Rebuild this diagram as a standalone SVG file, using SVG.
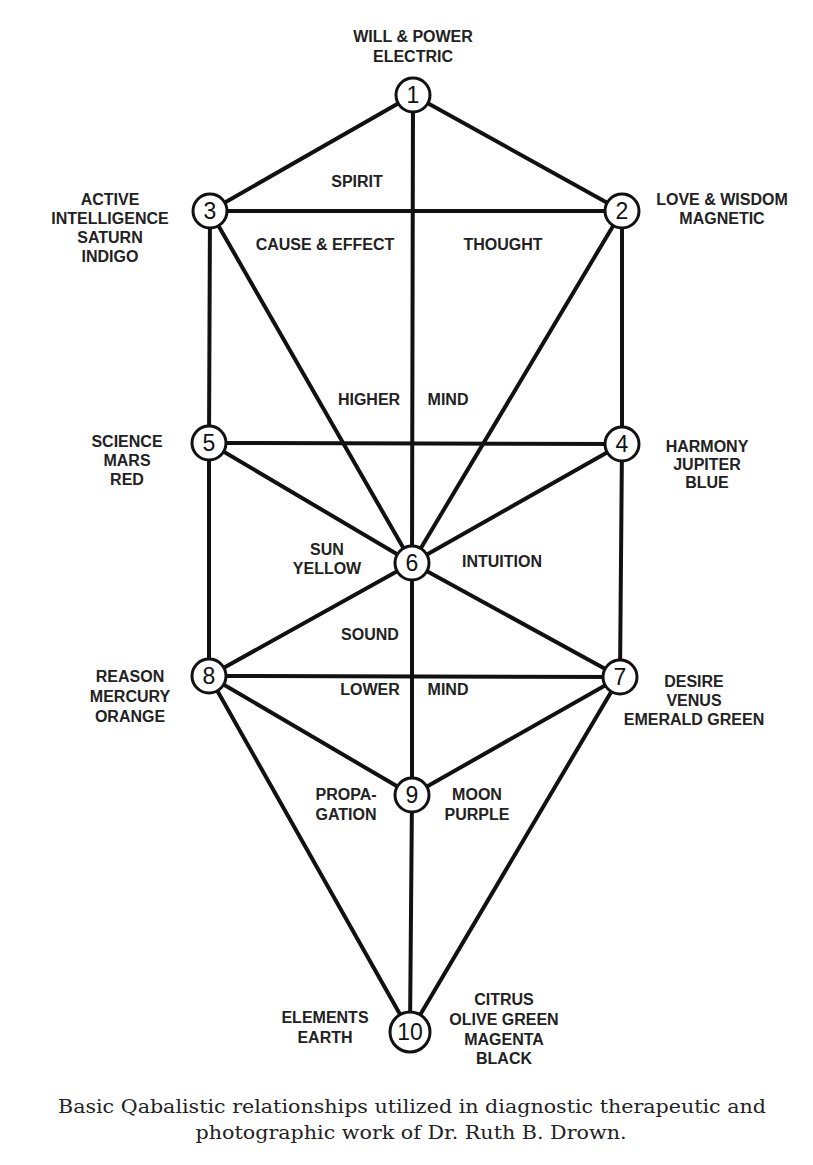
<svg xmlns="http://www.w3.org/2000/svg" width="813" height="1165" viewBox="0 0 813 1165">
<style>
.bg{fill:#ffffff}
.edge{stroke:#111;stroke-width:4;stroke-linecap:round;fill:none}
.node circle{fill:#fff;stroke:#111;stroke-width:3}
.num{font-family:"Liberation Sans",Arial,sans-serif;font-size:23px;fill:#111;text-anchor:middle}
.lbl{font-family:"Liberation Sans",Arial,sans-serif;font-size:16px;font-weight:bold;fill:#222;text-anchor:middle}
.cap{font-family:"DejaVu Serif","Liberation Serif",serif;font-size:19px;fill:#222;text-anchor:middle}
</style>
<rect class="bg" x="0" y="0" width="813" height="1165"/>
<g id="connectors">
<line class="edge" x1="413" y1="95" x2="210" y2="211"/>
<line class="edge" x1="413" y1="95" x2="622" y2="211"/>
<line class="edge" x1="413" y1="95" x2="412" y2="563"/>
<line class="edge" x1="210" y1="211" x2="622" y2="211"/>
<line class="edge" x1="210" y1="211" x2="209" y2="443"/>
<line class="edge" x1="210" y1="211" x2="412" y2="563"/>
<line class="edge" x1="622" y1="211" x2="622" y2="444"/>
<line class="edge" x1="622" y1="211" x2="412" y2="563"/>
<line class="edge" x1="209" y1="443" x2="622" y2="444"/>
<line class="edge" x1="209" y1="443" x2="412" y2="563"/>
<line class="edge" x1="622" y1="444" x2="412" y2="563"/>
<line class="edge" x1="209" y1="443" x2="209" y2="676"/>
<line class="edge" x1="622" y1="444" x2="620" y2="677"/>
<line class="edge" x1="412" y1="563" x2="209" y2="676"/>
<line class="edge" x1="412" y1="563" x2="620" y2="677"/>
<line class="edge" x1="412" y1="563" x2="412" y2="795"/>
<line class="edge" x1="209" y1="676" x2="620" y2="677"/>
<line class="edge" x1="209" y1="676" x2="412" y2="795"/>
<line class="edge" x1="620" y1="677" x2="412" y2="795"/>
<line class="edge" x1="209" y1="676" x2="410" y2="1032"/>
<line class="edge" x1="620" y1="677" x2="410" y2="1032"/>
<line class="edge" x1="412" y1="795" x2="410" y2="1032"/>
</g>
<g id="node1" class="node"><circle cx="413" cy="95" r="17"/><text class="num" x="413" y="103">1</text></g>
<g id="node2" class="node"><circle cx="622" cy="211" r="17"/><text class="num" x="622" y="219">2</text></g>
<g id="node3" class="node"><circle cx="210" cy="211" r="17"/><text class="num" x="210" y="219">3</text></g>
<g id="node4" class="node"><circle cx="622" cy="444" r="17"/><text class="num" x="622" y="452">4</text></g>
<g id="node5" class="node"><circle cx="209" cy="443" r="17"/><text class="num" x="209" y="451">5</text></g>
<g id="node6" class="node"><circle cx="412" cy="563" r="17"/><text class="num" x="412" y="571">6</text></g>
<g id="node7" class="node"><circle cx="620" cy="677" r="17"/><text class="num" x="620" y="685">7</text></g>
<g id="node8" class="node"><circle cx="209" cy="676" r="17"/><text class="num" x="209" y="684">8</text></g>
<g id="node9" class="node"><circle cx="412" cy="795" r="17"/><text class="num" x="412" y="803">9</text></g>
<g id="node10" class="node"><circle cx="410" cy="1032" r="20"/><text class="num" x="410" y="1040">10</text></g>
<g id="labels">
<text class="lbl" x="413" y="42">WILL &amp; POWER</text>
<text class="lbl" x="413" y="62">ELECTRIC</text>
<text class="lbl" x="357" y="187">SPIRIT</text>
<text class="lbl" x="325" y="250">CAUSE &amp; EFFECT</text>
<text class="lbl" x="503" y="250">THOUGHT</text>
<text class="lbl" x="110" y="205">ACTIVE</text>
<text class="lbl" x="110" y="224">INTELLIGENCE</text>
<text class="lbl" x="110" y="243">SATURN</text>
<text class="lbl" x="110" y="262">INDIGO</text>
<text class="lbl" x="722" y="205">LOVE &amp; WISDOM</text>
<text class="lbl" x="722" y="224">MAGNETIC</text>
<text class="lbl" x="369" y="405">HIGHER</text>
<text class="lbl" x="448" y="405">MIND</text>
<text class="lbl" x="127" y="447">SCIENCE</text>
<text class="lbl" x="127" y="466">MARS</text>
<text class="lbl" x="127" y="485">RED</text>
<text class="lbl" x="707" y="452">HARMONY</text>
<text class="lbl" x="707" y="470">JUPITER</text>
<text class="lbl" x="707" y="488">BLUE</text>
<text class="lbl" x="327" y="555">SUN</text>
<text class="lbl" x="327" y="574">YELLOW</text>
<text class="lbl" x="502" y="567">INTUITION</text>
<text class="lbl" x="370" y="640">SOUND</text>
<text class="lbl" x="370" y="695">LOWER</text>
<text class="lbl" x="448" y="695">MIND</text>
<text class="lbl" x="130" y="682">REASON</text>
<text class="lbl" x="130" y="702">MERCURY</text>
<text class="lbl" x="130" y="722">ORANGE</text>
<text class="lbl" x="694" y="687">DESIRE</text>
<text class="lbl" x="694" y="706">VENUS</text>
<text class="lbl" x="694" y="725">EMERALD GREEN</text>
<text class="lbl" x="346" y="800">PROPA-</text>
<text class="lbl" x="346" y="820">GATION</text>
<text class="lbl" x="477" y="800">MOON</text>
<text class="lbl" x="477" y="820">PURPLE</text>
<text class="lbl" x="325" y="1023">ELEMENTS</text>
<text class="lbl" x="325" y="1043">EARTH</text>
<text class="lbl" x="504" y="1005">CITRUS</text>
<text class="lbl" x="504" y="1025">OLIVE GREEN</text>
<text class="lbl" x="504" y="1045">MAGENTA</text>
<text class="lbl" x="504" y="1064">BLACK</text>
</g>
<g id="caption">
<text class="cap" x="412" y="1113" textLength="708" lengthAdjust="spacingAndGlyphs">Basic Qabalistic relationships utilized in diagnostic therapeutic and</text>
<text class="cap" x="411" y="1139" textLength="431" lengthAdjust="spacingAndGlyphs">photographic work of Dr. Ruth B. Drown.</text>
</g>
</svg>
